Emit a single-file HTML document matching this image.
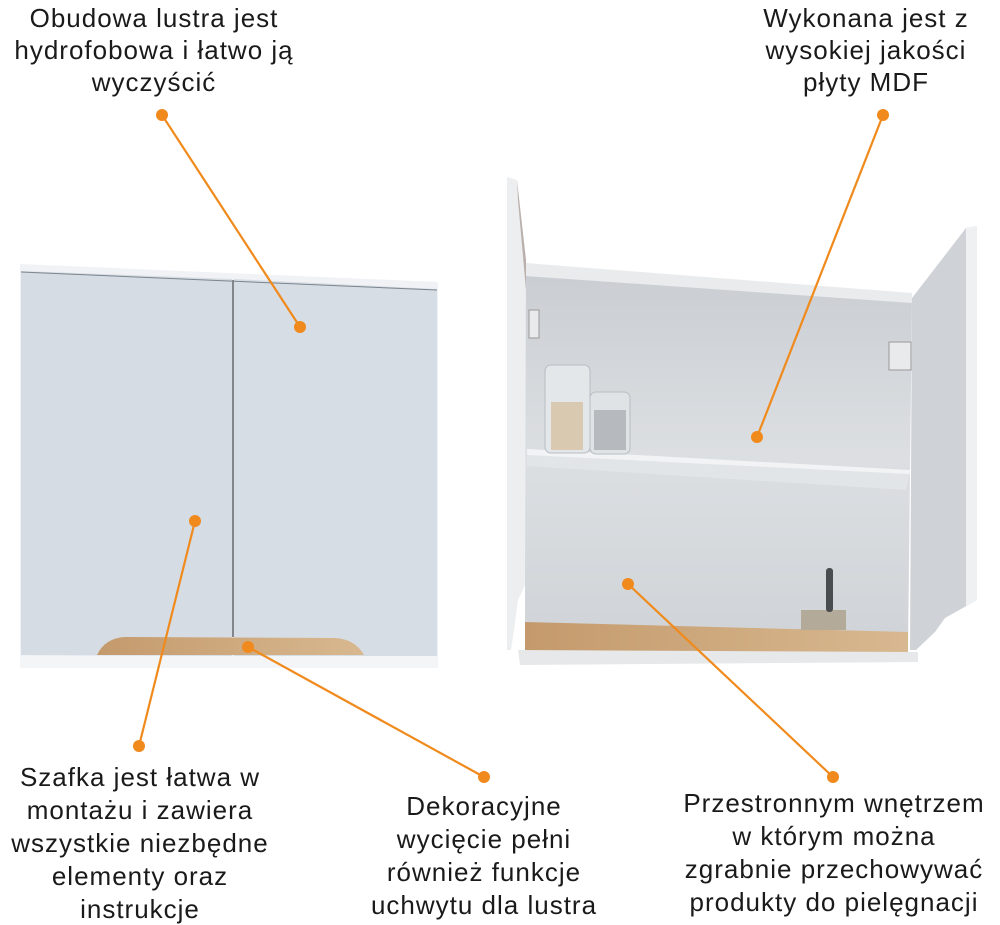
<!DOCTYPE html>
<html><head><meta charset="utf-8"><style>
html,body{margin:0;padding:0;background:#fff;}
svg{display:block}
text{font-family:"Liberation Sans",sans-serif;font-size:26px;letter-spacing:1px;fill:#1a1a1a;text-anchor:middle}
</style></head><body>
<svg width="1000" height="925" viewBox="0 0 1000 925">
<defs>
<linearGradient id="wood" x1="0" x2="1"><stop offset="0" stop-color="#c49a6c"/><stop offset="1" stop-color="#d8b890"/></linearGradient>
<linearGradient id="back" x1="0" y1="0" x2="0" y2="1"><stop offset="0" stop-color="#c9cdd2"/><stop offset="0.5" stop-color="#dcdfe2"/><stop offset="1" stop-color="#cfd3d7"/></linearGradient>
</defs>
<!-- Left cabinet -->
<polygon points="20,264 438,282 438,668 20,668" fill="#f0f2f5"/>
<polygon points="21,271 232,279 232,656 21,655" fill="#d5dce3"/>
<polygon points="234,279 437,289 437,658 234,656" fill="#d7dde4"/>
<line x1="233" y1="280" x2="233" y2="637" stroke="#3a3f45" stroke-width="1.2"/>
<line x1="21" y1="272" x2="437" y2="290" stroke="#7d858d" stroke-width="1"/>
<path d="M97,655 Q105,638 125,637 L335,638 Q355,639 364,655 Z" fill="url(#wood)"/>
<rect x="20" y="656" width="418" height="12" fill="#f4f5f7"/>
<!-- Right cabinet -->
<polygon points="525,263 912,300 908,650 525,650" fill="url(#back)"/>
<polygon points="525,263 912,293 912,303 525,276" fill="#e9ebed"/>
<polygon points="527,452 910,472 906,490 527,466" fill="#e2e5e8"/>
<polygon points="527,449 910,470 910,474 527,455" fill="#f2f3f5"/>
<polygon points="525,622 908,632 908,652 525,652" fill="url(#wood)"/>
<polygon points="518,650 918,652 918,662 520,665" fill="#e6e8ea"/>
<!-- left door -->
<polygon points="507,177 517,180 526,262 525,585 518,600 514,630 511,650 507,650" fill="#eceef0"/>
<polygon points="517,180 526,260 526,290 518,200" fill="#b9b0ab"/>
<!-- right door -->
<polygon points="912,298 966,228 977,226 977,600 945,618 935,632 916,650 910,650" fill="#cfd3d7"/>
<polygon points="966,228 977,226 977,600 966,606" fill="#eef0f2"/>
<!-- jars -->
<rect x="545" y="365" width="45" height="88" rx="6" fill="#e3e7ea" stroke="#b8bec4"/>
<rect x="551" y="402" width="32" height="48" fill="#d8c9b0"/>
<rect x="590" y="392" width="40" height="62" rx="6" fill="#dfe3e6" stroke="#b8bec4"/>
<rect x="594" y="410" width="32" height="40" fill="#b6babe"/>
<rect x="801" y="610" width="45" height="20" fill="#b4aa9a"/>
<rect x="826" y="568" width="7" height="44" rx="3" fill="#4a4d50"/>
<rect x="529" y="310" width="10" height="28" fill="#e8eaec" stroke="#999"/>
<rect x="889" y="342" width="22" height="28" fill="#e8eaec" stroke="#999"/>
<!-- connectors -->
<g stroke="#f08a1c" stroke-width="2.2" fill="none">
<line x1="162" y1="115" x2="300" y2="327"/>
<line x1="883" y1="115" x2="757" y2="437"/>
<line x1="195" y1="521" x2="139" y2="746"/>
<line x1="248" y1="647" x2="484" y2="777"/>
<line x1="628" y1="584" x2="833" y2="777"/>
</g>
<g fill="#f08a1c">
<circle cx="162" cy="115" r="6"/><circle cx="300" cy="327" r="6"/>
<circle cx="883" cy="115" r="6"/><circle cx="757" cy="437" r="6"/>
<circle cx="195" cy="521" r="6"/><circle cx="139" cy="746" r="6"/>
<circle cx="248" cy="647" r="6"/><circle cx="484" cy="777" r="6"/>
<circle cx="628" cy="584" r="6"/><circle cx="833" cy="777" r="6"/>
</g>
<!-- labels -->
<text x="154" y="27">Obudowa lustra jest</text>
<text x="154" y="59">hydrofobowa i łatwo ją</text>
<text x="154" y="91">wyczyścić</text>
<text x="866" y="27">Wykonana jest z</text>
<text x="866" y="59">wysokiej jakości</text>
<text x="866" y="91">płyty MDF</text>
<text x="140" y="786">Szafka jest łatwa w</text>
<text x="140" y="819">montażu i zawiera</text>
<text x="140" y="852">wszystkie niezbędne</text>
<text x="140" y="885">elementy oraz</text>
<text x="140" y="918">instrukcje</text>
<text x="484" y="815">Dekoracyjne</text>
<text x="484" y="848">wycięcie pełni</text>
<text x="484" y="881">również funkcje</text>
<text x="484" y="914">uchwytu dla lustra</text>
<text x="834" y="812">Przestronnym wnętrzem</text>
<text x="834" y="845">w którym można</text>
<text x="834" y="878">zgrabnie przechowywać</text>
<text x="834" y="911">produkty do pielęgnacji</text>
</svg>
</body></html>
